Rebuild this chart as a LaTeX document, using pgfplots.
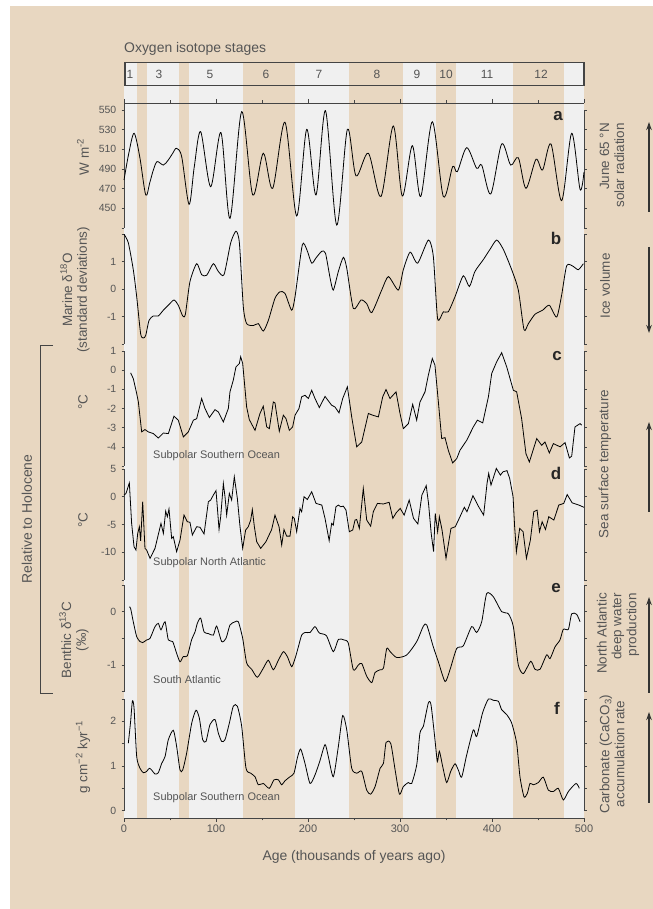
\documentclass[border=0pt]{standalone}
\usepackage{pgfplots}
\pgfplotsset{compat=1.18}
\usepackage{fontspec}
\setmainfont{Liberation Sans}
\usetikzlibrary{arrows.meta}
\definecolor{tanbg}{HTML}{E8D7C1}
\definecolor{lightg}{HTML}{F0F0F0}
\definecolor{txt}{HTML}{555555}
\definecolor{axc}{HTML}{444444}
\pgfplotsset{
  panel/.style={
    at={(124bp,#1bp)}, anchor=south west, scale only axis, width=460bp,
    xmin=0, xmax=500, axis x line=none, axis y line=box,
    xtick=\empty, clip=false,
    tick align=outside, major tick length=2.5bp, minor tick length=1.5bp,
    y axis line style={draw=axc, line width=0.7bp, -},
    every tick/.style={draw=axc, line width=0.6bp},
    yticklabel style={font=\fontsize{10.5}{12}\selectfont, text=txt, inner sep=5bp},
  },
  curve/.style={black, line width=0.8bp, mark=none},
}
\newcommand{\lab}{\fontsize{13.5}{15}\selectfont}
\begin{document}
\begin{tikzpicture}[x=1bp,y=1bp]
\useasboundingbox (0,0) rectangle (653,909);
\fill[white] (0,0) rectangle (653,909);
\fill[tanbg] (10,0) rectangle (653,903);

% background bands
\begin{axis}[at={(124bp,91bp)}, anchor=south west, scale only axis, width=460bp, height=755.3bp,
  xmin=0,xmax=500,ymin=0,ymax=1, hide axis, clip=false]
\addplot[fill=lightg, draw=none] coordinates {(0,0)(500,0)(500,1)(0,1)} -- cycle;
\addplot[fill=tanbg, draw=none] coordinates {(13.8,0)(24.7,0)(24.7,1)(13.8,1)} -- cycle;
\addplot[fill=tanbg, draw=none] coordinates {(59.8,0)(70.7,0)(70.7,1)(59.8,1)} -- cycle;
\addplot[fill=tanbg, draw=none] coordinates {(129,0)(186,0)(186,1)(129,1)} -- cycle;
\addplot[fill=tanbg, draw=none] coordinates {(245,0)(303.3,0)(303.3,1)(245,1)} -- cycle;
\addplot[fill=tanbg, draw=none] coordinates {(339.5,0)(361,0)(361,1)(339.5,1)} -- cycle;
\addplot[fill=tanbg, draw=none] coordinates {(423.2,0)(478.5,0)(478.5,1)(423.2,1)} -- cycle;
\end{axis}

% stage box
\draw[axc, line width=1.1bp] (125,846.3) rectangle (584,823.7);
\node[anchor=west, text=txt, font=\fontsize{14}{16}\selectfont, inner sep=0] at (124,860) {Oxygen isotope stages};
\foreach \x/\s in {130/1,159/3,210/5,266/6,319/7,377/8,417/9,446/10,487/11,541/12}
  \node[text=txt, font=\fontsize{12}{14}\selectfont, inner sep=0] at (\x,835) {\s};

% frame axis: top and bottom lines
\begin{axis}[at={(124bp,91bp)}, anchor=south west, scale only axis, width=460bp, height=715bp,
  xmin=0,xmax=500,ymin=0,ymax=1, axis x line=box, axis y line=none, ytick=\empty,
  xtick={0,100,200,300,400,500}, xticklabels={0,100,200,300,400,500},
  minor xtick={50,150,250,350,450},
  tick align=outside, major tick length=4bp, minor tick length=2.5bp,
  x axis line style={draw=axc, line width=0.8bp, -},
  every tick/.style={draw=axc, line width=0.7bp},
  xticklabel style={font=\fontsize{11}{13}\selectfont, text=txt, inner sep=3bp}]
\end{axis}
\draw[axc, line width=0.7bp] (124,806) -- (124,799);

% a: insolation
\begin{axis}[panel=681, height=118bp, ymin=430, ymax=550,
  ytick={430,450,470,490,510,530,550}, yticklabels={{},450,470,490,510,530,550}]
\addplot[curve, smooth] coordinates {(0,478.8)(5,505)(10.9,526.3)(17,503)(23.6,463.6)(28,476)(31.9,489)(36,497.5)(42.8,494)(48,499)(53,506)(57,511)(62.7,502.5)(70.7,454)(76.4,492.4)(83.3,528)(94.2,472)(105.4,527)(115.2,439.8)(127.9,548.3)(139.9,463.6)(151.4,506)(161.6,470.3)(175,537.5)(187.7,442.2)(198.6,530.3)(208.7,463.6)(219,549.3)(231.2,433)(242.8,530.3)(252.2,483)(265.6,506)(279.3,462)(292.7,533.7)(302.5,462.5)(313.4,513.7)(322.5,462)(335.1,538)(347.1,462)(357.2,492.4)(362.3,487.3)(372.5,511.7)(383.3,490.7)(388.8,494)(398.6,464.6)(410.5,515.4)(420.3,494)(428.6,501.5)(436.9,470.3)(447.8,499.8)(455,489)(464.1,515.4)(475.7,457.8)(486.6,526.3)(495.7,469.3)(500,487)};
\end{axis}

% b: marine d18O
\begin{axis}[panel=565, height=110bp, ymin=-2, ymax=2,
  ytick={-2,-1,0,1,2}, yticklabels={{},-1,0,1,{}}]
\addplot[curve, smooth, tension=0.4] coordinates {(0,1.99)(4.7,1.68)(10.1,0.70)(13.8,-0.28)(18.1,-1.63)(21,-1.78)(23.6,-1.69)(27.2,-1.14)(31.9,-0.98)(37.3,-0.98)(42.8,-0.77)(48.2,-0.59)(54.3,-0.4)(59,-0.59)(63.8,-0.98)(66.7,-0.92)(71.7,0.27)(79,0.92)(84.4,0.52)(89.9,0.5)(97.1,0.92)(102.5,0.64)(108.7,0.52)(116,1.68)(121.7,2.1)(125.4,1.68)(129.7,-0.65)(133.3,-1.26)(140.6,-1.33)(146,-1.26)(151.4,-1.53)(156.9,-1.14)(164.1,-0.34)(169.6,-0.1)(175,-0.16)(182.2,-0.77)(185.9,-0.28)(193.8,1.6)(198.6,1.44)(204,0.94)(208.7,1.13)(214.9,1.37)(219,1.3)(224,0.4)(227.5,-0.04)(233,0.64)(238.4,1.15)(242.1,0.76)(249.3,-0.71)(257.6,-0.4)(263.8,-0.53)(269.3,-0.86)(280.1,-0.04)(287.4,0.45)(298.2,-0.04)(303.6,0.70)(311,1.34)(319.2,0.94)(330.8,1.78)(336.2,1.19)(340.9,-1.08)(347.1,-0.83)(352.5,-0.83)(359.8,-0.28)(368.8,0.48)(375.4,0.09)(381.5,0.64)(390.6,1.07)(397.8,1.44)(405.1,1.78)(412.3,1.44)(421.4,0.7)(428.6,-0.04)(434.8,-1.48)(439.5,-1.26)(446.7,-0.92)(455.1,-0.77)(462.3,-0.59)(470.3,-1.02)(475.7,-0.22)(481.2,0.85)(488.4,0.82)(493.8,0.7)(499.3,0.92)};
\end{axis}

% c: SST southern ocean
\begin{axis}[panel=443, height=115bp, ymin=-5, ymax=1,
  ytick={-5,-4,-3,-2,-1,0,1}, yticklabels={{},-4,-3,-2,-1,0,1}]
\addplot[curve] coordinates {(7.2,-0.14)(10.1,-0.44)(13.8,-1.22)(15.6,-1.66)(19.2,-3.22)(22.8,-3.1)(26.4,-3.22)(31.9,-3.31)(37.3,-3.54)(42.8,-3.28)(48.2,-3.31)(54.3,-2.4)(59,-2.61)(64.5,-3.48)(69.9,-3.22)(75.4,-2.61)(79,-2.53)(84.4,-1.48)(88,-2.0)(92.8,-2.47)(98.9,-2.06)(102.5,-2.18)(108,-2.7)(113.4,-2.0)(115.2,-1.13)(118.8,-0.52)(121.7,0.17)(125.4,0.35)(126.8,0.70)(129,0.35)(133.3,-1.92)(136.2,-2.58)(142.4,-3.14)(147.8,-2.26)(151.4,-1.88)(155.1,-2.96)(158,-3.05)(162.3,-1.66)(164.1,-1.71)(168.8,-3.19)(173.2,-2.35)(176.1,-2.53)(179.7,-3.14)(183.3,-2.96)(185.9,-2.35)(190.2,-2.0)(193.1,-1.39)(196.7,-1.31)(200.4,-1.48)(204,-1.05)(207.6,-1.48)(212.3,-1.95)(218.5,-1.37)(225.7,-1.83)(229.3,-1.92)(233.7,-2.23)(237.7,-1.48)(242.8,-0.87)(247.5,-2.44)(252.9,-4.0)(258.4,-3.75)(265.6,-2.26)(270.3,-2.35)(276.5,-2.44)(281.2,-1.39)(284.8,-1.01)(289.1,-1.48)(295.7,-1.13)(300,-2.26)(303.6,-3.05)(309.1,-2.79)(313.8,-1.78)(318.1,-2.61)(321.7,-1.66)(327.2,-1.13)(330.8,-0.26)(335.1,0.61)(338,0.26)(341.7,-1.66)(345.3,-3.57)(348.9,-3.52)(352.5,-4.18)(357.2,-4.84)(361.6,-4.62)(365.2,-4.18)(372.5,-3.66)(379.7,-2.96)(384.1,-2.61)(389.9,-2.75)(396.1,-1.39)(399.7,-0.17)(405.1,0.44)(410.5,0.91)(416,0.17)(423.2,-1.05)(426.8,-1.13)(432.2,-2.53)(436.9,-4.36)(440.6,-4.79)(448.6,-3.57)(454,-3.92)(457.6,-3.75)(462.3,-4.32)(466.7,-3.83)(474,-4.0)(479.4,-3.78)(484.1,-4.58)(486.6,-4.49)(490.2,-2.96)(495.7,-2.79)(497.5,-2.87)};
\end{axis}

% d: SST north atlantic
\begin{axis}[panel=329, height=111bp, ymin=-15, ymax=5,
  ytick={-15,-10,-5,0,5}, yticklabels={{},-10,-5,0,5}]
\addplot[curve] coordinates {(0,0.3)(2.2,0.6)(5.8,2.5)(8.3,-4.8)(10.9,-9.0)(13,-9.6)(14.9,-6.6)(16.7,-5.4)(18.1,-7.95)(20.3,-0.9)(22.8,-9.3)(24.6,-9.6)(28.3,-11.1)(33.7,-9.3)(40.2,-4.8)(42.8,-6.6)(45.3,-2.6)(47.1,-3.6)(48.9,-2.2)(51.8,-7.5)(53.6,-7.2)(57.2,-9.9)(60.9,-7.8)(65.2,-3.3)(68.8,-4.5)(71.7,-4.6)(74.3,-6.9)(79,-5.4)(82.6,-5.5)(87,-6.7)(91.7,-0.9)(94.2,-0.6)(97.1,0.3)(100,1.1)(101.4,-1.8)(103.3,-5.9)(105.1,-3.6)(108,2.4)(109.8,0.0)(111.6,-3.3)(114.5,0.6)(117,-0.6)(119.9,3.6)(123.2,-0.3)(126.1,-5.4)(129,-9.3)(132.2,-6.0)(135.1,-5.4)(137.7,-4.2)(139.5,-2.3)(141.7,-5.4)(144.2,-8.1)(148.6,-9.3)(154.3,-8.1)(160.5,-5.9)(164.1,-3.3)(168.5,-5.4)(171.4,-8.7)(173.9,-5.9)(176.8,-7.1)(180.4,-7.1)(183.3,-3.6)(185.1,-3.9)(187.7,-6.3)(191.3,-2.1)(193.1,-2.7)(195.7,0.0)(199.3,-0.5)(204,0.9)(208.7,-1.2)(215,-1.5)(218.5,-3.9)(223,-7.9)(225.7,-4.8)(227.5,-5.1)(230.4,-1.8)(233,-1.5)(235.5,-1.8)(238.4,-1.7)(241.3,-2.4)(244.9,-6.3)(248.6,-6.0)(251.1,-4.2)(252.9,-4.1)(255.8,-5.7)(260.1,1.5)(263.8,-4.2)(268.1,-5.3)(271,-2.7)(275.4,-1.2)(281.9,-1.3)(288.2,-1.0)(292.2,-3.9)(295.8,-2.9)(300.2,-2.1)(304.5,-3.3)(310,-0.6)(314.7,-3.9)(319.4,-4.9)(323.8,0.3)(328.5,2.0)(331,-1.2)(333.9,-6.6)(336.5,-9.9)(338.3,-3.0)(340.9,-6.3)(342.8,-3.6)(345.7,-6.0)(350,-11.1)(355.4,-5.7)(360.1,-5.4)(363.8,-4.1)(369.9,-1.9)(372.8,-2.7)(379.3,0.2)(385.5,-1.8)(390.9,-3.3)(394.6,2.4)(396.4,4.2)(398.9,2.1)(404.7,5.1)(409.1,3.9)(412,4.5)(416.3,4.7)(419.2,3.3)(422.9,0.0)(424.6,-5.4)(426.5,-9.9)(430.1,-5.7)(433.8,-6.3)(437.4,-11.1)(441.7,-7.8)(445.4,-2.7)(449,-2.4)(451.6,-6.3)(454.5,-4.5)(458.1,-5.9)(461.7,-3.6)(467.2,-4.2)(472.6,-1.5)(478,-1.2)(481.7,0.4)(487.1,-1.1)(494.4,-1.5)(499.9,-1.9)};
\end{axis}

% e: benthic d13C
\begin{axis}[panel=217.3, height=106.7bp, ymin=-1.5, ymax=0.5,
  ytick={-1.5,-1,-0.5,0,0.5}, yticklabels={{},-1,{},0,{}}]
\addplot[curve, smooth, tension=0.4] coordinates {(5.8,0.09)(7.2,0.06)(10.1,-0.19)(13.8,-0.47)(17.4,-0.56)(20.3,-0.58)(24.6,-0.53)(28.3,-0.5)(33.7,-0.28)(37.3,-0.22)(40.2,-0.34)(44.6,-0.19)(48.2,-0.53)(52.9,-0.56)(57.2,-0.78)(60.9,-0.94)(64.5,-0.84)(68.8,-0.83)(73.6,-0.52)(77.2,-0.38)(79.7,-0.22)(83.3,-0.12)(87,-0.38)(91.7,-0.41)(97.1,-0.44)(100.7,-0.27)(106.2,-0.56)(110.9,-0.5)(115.2,-0.25)(120.7,-0.19)(124.3,-0.19)(129,-0.5)(133.3,-0.96)(138.8,-1.08)(144.9,-1.23)(151.4,-1.06)(156.9,-0.91)(162.3,-1.09)(167.8,-0.91)(173.2,-0.75)(177.5,-0.84)(182.2,-1.03)(185.9,-0.88)(189.5,-0.66)(193.1,-0.44)(196.7,-0.39)(202.2,-0.39)(207.6,-0.28)(212.3,-0.4)(220,-0.45)(227.5,-0.75)(233,-0.52)(239.1,-0.53)(243.8,-0.59)(249.3,-1.09)(254.7,-1.0)(258.4,-0.97)(263.8,-1.21)(269.3,-1.33)(272.9,-1.14)(278.4,-1.09)(282,-1.06)(285.6,-0.69)(289.3,-0.75)(296.5,-0.86)(307.4,-0.81)(318.2,-0.56)(325.4,-0.27)(329.1,-0.25)(336.2,-0.66)(341.7,-0.94)(349,-1.31)(354.3,-1.09)(361.6,-0.69)(368.8,-0.64)(377.9,-0.28)(383.3,-0.39)(388.8,-0.19)(394.2,0.34)(401.4,0.28)(410.5,0.0)(417.8,-0.04)(423.2,-0.28)(428.6,-1.0)(434.1,-1.16)(442.1,-0.93)(446.7,-1.08)(452.2,-1.08)(459.4,-0.81)(463.1,-0.88)(468.5,-0.66)(473.9,-0.53)(477.5,-0.33)(483,-0.33)(486.6,-0.04)(492,-0.05)(495.7,-0.19)};
\end{axis}

% f: carbonate
\begin{axis}[panel=98.3, height=111.7bp, ymin=0, ymax=2.5,
  ytick={0,0.5,1,1.5,2,2.5}, yticklabels={0,{},1,{},2,{}}]
\addplot[curve, smooth, tension=0.4] coordinates {(4.7,1.51)(7.2,2.0)(9.1,2.45)(10.9,2.3)(13.8,1.21)(17.4,0.95)(21,0.85)(24.6,0.88)(27.5,0.95)(30.1,0.91)(33.7,0.82)(37.3,0.85)(41,1.06)(44.6,1.21)(48.2,1.59)(53.6,1.8)(57.2,1.44)(60.9,0.91)(63.8,0.91)(68.1,1.29)(73.6,1.96)(78.3,2.25)(81.9,2.07)(85.5,1.59)(89.1,1.55)(93.5,1.93)(98.9,2.04)(102.5,1.74)(106.2,1.55)(109.8,1.59)(114.5,1.96)(118.8,2.34)(123.2,2.34)(127.9,1.89)(132.6,0.95)(137.7,0.84)(142.4,0.76)(146,0.58)(151.4,0.61)(157.9,0.5)(163,0.69)(167.8,0.69)(171.4,0.58)(175,0.67)(180.4,0.76)(184.8,0.84)(188.4,1.18)(192,1.38)(196.7,1.06)(202.2,0.61)(207.6,0.8)(213,1.12)(218.5,1.48)(222.1,1.21)(227.5,0.76)(233,1.44)(237.7,2.13)(242.1,1.81)(247.5,0.95)(253,0.84)(258.4,0.88)(263.8,0.46)(268.1,0.37)(272.9,0.54)(278.4,0.95)(282,1.06)(284.9,1.53)(290,1.5)(294.7,0.91)(299.4,0.37)(303.6,0.54)(309.1,0.63)(312.7,0.61)(318.2,1.03)(321.7,1.74)(325.4,1.89)(330.8,2.41)(333.7,2.37)(338,1.59)(340.6,1.1)(342.8,1.33)(346.4,0.99)(350.7,0.63)(355.1,0.88)(359.8,1.05)(363.4,0.91)(367,0.75)(372.5,1.25)(379.7,1.81)(383.3,1.66)(389.9,2.2)(396.1,2.5)(401.4,2.47)(406.9,2.45)(410.5,2.26)(416,2.15)(421.4,1.96)(426.8,1.51)(430.4,0.76)(434.8,0.31)(438.4,0.39)(441.3,0.61)(444.9,0.58)(450.4,0.63)(455.8,0.75)(461.2,0.46)(466.7,0.43)(472.1,0.5)(477.5,0.24)(483,0.43)(491.3,0.61)(494.9,0.5)};
\end{axis}

% left labels
\begin{scope}[every node/.style={text=txt, rotate=90, inner sep=0, align=center}]
\node[font=\lab] at (83,752) {W m\textsuperscript{-2}};
\node[font=\lab] at (75,619) {Marine δ\textsuperscript{18}O\\(standard deviations)};
\node[font=\lab] at (83,507) {°C};
\node[font=\lab] at (83,389) {°C};
\node[font=\lab] at (74,269) {Benthic δ\textsuperscript{13}C\\(‰)};
\node[font=\lab] at (83,152) {g cm\textsuperscript{−2} kyr\textsuperscript{−1}};
\node[font=\fontsize{14}{16}\selectfont] at (27,390) {Relative to Holocene};
% right labels
\node[font=\lab, anchor=east, align=right] at (612,786) {June 65 °N\\solar radiation};
\node[font=\lab] at (605,623) {Ice volume};
\node[font=\lab] at (605,445) {Sea surface temperature};
\node[font=\lab, anchor=east, align=right] at (618,316) {North Atlantic\\deep water\\production};
\node[font=\lab] at (612,155) {Carbonate (CaCO\textsubscript{3})\\accumulation rate};
\end{scope}
\draw[axc, line width=0.9bp] (53,563.3) -- (40,563.3) -- (40,216) -- (53,216);

% arrows
\begin{scope}[black!80, line width=1.2bp, -{Stealth[length=8bp,width=5.5bp]}]
\draw (649,697) -- (649,787);
\draw (649,662) -- (649,576);
\draw (649,397) -- (649,487);
\draw (649,216) -- (649,312);
\draw (649,106) -- (649,197);
\end{scope}

% panel letters
\begin{scope}[every node/.style={font=\fontsize{17}{18}\selectfont\bfseries, text=black!85, inner sep=0}]
\node at (558,793) {a};
\node at (556,671) {b};
\node at (557,553) {c};
\node at (556,436) {d};
\node at (556,321) {e};
\node at (557,201) {f};
\end{scope}

% annotations
\begin{scope}[every node/.style={font=\fontsize{11}{13}\selectfont, text=txt, anchor=west, inner sep=0}]
\node at (153,453) {Subpolar Southern Ocean};
\node at (153,346) {Subpolar North Atlantic};
\node at (153,229) {South Atlantic};
\node at (153,111) {Subpolar Southern Ocean};
\end{scope}

\node[font=\fontsize{14}{16}\selectfont, text=txt] at (354,52) {Age (thousands of years ago)};
\end{tikzpicture}
\end{document}
